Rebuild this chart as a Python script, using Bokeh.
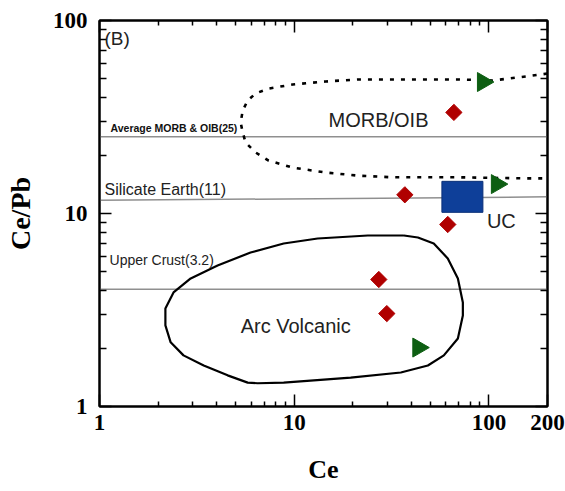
from bokeh.plotting import figure
from bokeh.models import LogAxis, FixedTicker, Label, CustomJSTickFormatter
from bokeh.embed import file_html
from bokeh.resources import INLINE

# ---------------- data ----------------
# sample points (red diamonds)
diamond_ce = [66.1, 37.0, 61.5, 27.2, 29.9]
diamond_cepb = [33.4, 12.5, 8.77, 4.55, 3.03]
# sample points (green triangles)
triangle_ce = [93.2, 109.9, 43.4]
triangle_cepb = [48.0, 14.2, 2.02]
# upper crust (blue square)
uc_ce = [73.1]
uc_cepb = [12.2]

# reference lines
ref_names = ["Average MORB & OIB(25)", "Silicate Earth(11)", "Upper Crust(3.2)"]
ref_ce = [1, 200]
ref_cepb_left = [25.0, 11.7, 4.05]
ref_cepb_right = [25.0, 12.2, 4.05]

# MORB/OIB field (dotted outline)
morb_ce = [200, 155, 104.8, 70.1, 47.5, 32.1, 21.5, 14.5, 9.82, 7.39, 6.34, 5.77,
           5.44, 5.31, 5.44, 5.63, 6.34, 7.39, 9.82, 14.5, 21.5, 32.1, 70.1, 155, 189.5]
morb_cepb = [53.1, 51.3, 48.9, 49.5, 49.5, 49.5, 49.5, 48.3, 46.6, 44.4, 41.9, 38.5,
             34.2, 29.6, 26.3, 23.3, 20.7, 18.8, 17.3, 16.3, 15.7, 15.4, 15.4, 15.2, 15.2]

# Arc volcanic field (closed outline)
arc_ce = [36.6, 23.9, 13.2, 8.83, 5.97, 4.04, 2.94, 2.40, 2.18, 2.18, 2.32, 2.70,
          3.43, 4.55, 5.77, 6.49, 8.83, 19.5, 35.3, 48.6, 58.7, 69.3, 73.5, 73.5,
          69.3, 61.5, 52.1, 43.2, 36.6]
arc_cepb = [7.69, 7.69, 7.42, 6.99, 6.28, 5.38, 4.61, 3.90, 3.22, 2.63, 2.15, 1.84,
            1.63, 1.45, 1.33, 1.32, 1.33, 1.41, 1.50, 1.63, 1.84, 2.25, 2.96, 3.46,
            4.61, 5.85, 6.99, 7.51, 7.69]

# ticks
x_ticks = [1, 10, 100, 200]
x_tick_labels = ["1", "10", "100", "200"]
x_minor = [2, 3, 4, 5, 6, 7, 8, 9, 20, 30, 40, 50, 60, 70, 80, 90]
y_ticks = [1, 10, 100]
y_tick_labels = ["1", "10", "100"]
y_minor = [2, 3, 4, 5, 6, 7, 8, 9, 20, 30, 40, 50, 60, 70, 80, 90]

# ---------------- figure ----------------
SERIF = "Liberation Serif"
SANS = "Liberation Sans"

p = figure(width=565, height=491, x_axis_type="log", y_axis_type="log",
           x_range=(1, 200), y_range=(1, 100), output_backend="svg",
           toolbar_location=None, min_border_left=99, min_border_right=18,
           min_border_top=20, min_border_bottom=85)
p.background_fill_color = "white"
p.border_fill_color = "white"
p.xgrid.visible = False
p.ygrid.visible = False
p.outline_line_color = "black"
p.outline_line_width = 2

def style_axis(ax, ticks, minor, labels, minor_len):
    ax.ticker = FixedTicker(ticks=ticks, minor_ticks=minor)
    ax.axis_line_color = "black"
    ax.axis_line_width = 2
    ax.major_tick_in = 12
    ax.major_tick_out = 0
    ax.minor_tick_in = minor_len
    ax.minor_tick_out = 0
    ax.major_tick_line_width = 1.5
    ax.minor_tick_line_width = 1.5
    ax.major_tick_line_color = "black"
    ax.minor_tick_line_color = "black"
    if labels is None:
        ax.formatter = CustomJSTickFormatter(code="return ''")
        ax.major_label_standoff = 0
    else:
        ax.major_label_overrides = {t: s for t, s in zip(ticks, labels)}
        ax.major_label_text_font = SERIF
        ax.major_label_text_font_style = "bold"
        ax.major_label_text_font_size = "23px"
        ax.major_label_text_color = "black"

style_axis(p.xaxis[0], x_ticks, x_minor, x_tick_labels, 5)
style_axis(p.yaxis[0], y_ticks, y_minor, y_tick_labels, 7)
p.xaxis[0].major_label_standoff = 8
p.yaxis[0].major_label_standoff = 12

p.xaxis[0].axis_label = "Ce"
p.xaxis[0].axis_label_text_font = SERIF
p.xaxis[0].axis_label_text_font_style = "bold"
p.xaxis[0].axis_label_text_font_size = "26px"
p.xaxis[0].axis_label_text_color = "black"
p.xaxis[0].axis_label_standoff = 22

p.yaxis[0].axis_label = "Ce/Pb"
p.yaxis[0].axis_label_text_font = SERIF
p.yaxis[0].axis_label_text_font_style = "bold"
p.yaxis[0].axis_label_text_font_size = "28px"
p.yaxis[0].axis_label_text_color = "black"
p.yaxis[0].axis_label_standoff = 14

top_axis = LogAxis()
style_axis(top_axis, x_ticks, x_minor, None, 5)
p.add_layout(top_axis, "above")
right_axis = LogAxis()
style_axis(right_axis, y_ticks, y_minor, None, 7)
p.add_layout(right_axis, "right")

# reference lines
for i in range(len(ref_names)):
    p.line(ref_ce, [ref_cepb_left[i], ref_cepb_right[i]], line_color="#8f8f8f", line_width=1.5)

# fields
p.line(morb_ce, morb_cepb, line_color="black", line_width=2.6, line_dash="4 7")
p.line(arc_ce, arc_cepb, line_color="black", line_width=2.2)

# samples
p.scatter(diamond_ce, diamond_cepb, marker="square", size=11.5, angle=0.785398,
          fill_color="#b00000", line_color="#b00000")
p.scatter(triangle_ce, triangle_cepb, marker="triangle", size=19, angle=-1.570796,
          fill_color="#0d5e12", line_color="#0d5e12")
p.rect(uc_ce, uc_cepb, width=41, height=31, width_units="screen", height_units="screen",
       fill_color="#0e3f99", line_color="#0a2f78", line_width=1)

# annotations
def add_label(x, y, text, size, font=SANS, style="normal", color="#222222"):
    p.add_layout(Label(x=x, y=y, text=text, text_font=font, text_font_style=style,
                       text_font_size=size, text_color=color,
                       text_align="left", text_baseline="middle"))

add_label(1.061, 80.7, "(B)", "19px")
add_label(1.139, 27.6, ref_names[0], "10.5px", style="bold", color="#111111")
add_label(1.061, 13.3, ref_names[1], "16px")
add_label(1.126, 5.71, ref_names[2], "14px")
add_label(15.0, 30.5, "MORB/OIB", "20px")
add_label(97.7, 9.15, "UC", "20px")
add_label(5.31, 2.60, "Arc Volcanic", "20px")

open("out.html", "w").write(file_html(p, INLINE))
